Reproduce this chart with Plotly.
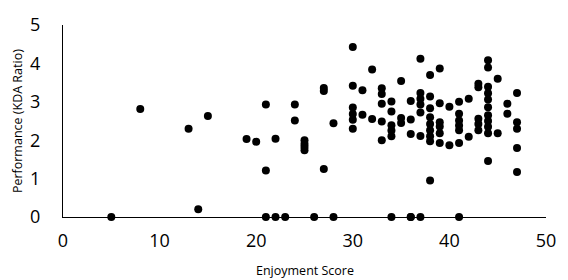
import plotly.graph_objects as go

# Enjoyment score (x) and KDA ratio (y)
enjoyment = [
    5, 8, 13, 14, 15, 19, 20,
    21, 21, 21,
    22, 22,
    23,
    24, 24,
    25, 25, 25, 25,
    26,
    27, 27, 27,
    28, 28,
    30, 30, 30, 30, 30, 30,
    31, 31,
    32, 32,
    33, 33, 33, 33, 33,
    34, 34, 34, 34, 34, 34,
    35, 35, 35,
    36, 36, 36, 36, 36,
    37, 37, 37, 37, 37, 37, 37,
    38, 38, 38, 38, 38, 38, 38, 38, 38,
    39, 39, 39, 39, 39, 39,
    40, 40,
    41, 41, 41, 41, 41, 41, 41,
    42, 42,
    43, 43, 43, 43, 43,
    44, 44, 44, 44, 44, 44, 44, 44, 44, 44, 44,
    45, 45,
    46, 46,
    47, 47, 47, 47, 47,
]
kda = [
    0.0, 2.81, 2.30, 0.20, 2.63, 2.03, 1.96,
    2.93, 1.21, 0.0,
    2.04, 0.0,
    0.0,
    2.93, 2.51,
    2.00, 1.90, 1.82, 1.74,
    0.0,
    3.36, 3.28, 1.25,
    2.44, 0.0,
    4.43, 3.42, 2.85, 2.68, 2.53, 2.30,
    3.30, 2.66,
    3.84, 2.55,
    3.35, 3.20, 2.95, 2.49, 2.00,
    3.01, 2.75, 2.39, 2.25, 2.10, 0.0,
    3.54, 2.58, 2.45,
    3.02, 2.54, 2.16, 0.0, 0.0,
    4.12, 3.23, 3.08, 2.93, 2.72, 2.11, 0.0,
    3.70, 3.14, 2.83, 2.60, 2.42, 2.26, 2.10, 1.97, 0.95,
    3.87, 2.96, 2.47, 2.36, 2.18, 1.93,
    2.87, 1.87,
    3.00, 2.69, 2.51, 2.38, 2.26, 1.93, 0.0,
    3.08, 2.09,
    3.47, 3.38, 2.56, 2.42, 2.26,
    4.08, 3.89, 3.39, 3.22, 3.06, 2.86, 2.65, 2.50, 2.35, 2.18, 1.46,
    3.60, 2.18,
    2.95, 2.69,
    3.23, 2.47, 2.30, 1.80, 1.17,
]

x_ticks = [0, 10, 20, 30, 40, 50]
y_ticks = [0, 1, 2, 3, 4, 5]
x_title = "Enjoyment Score"
y_title = "Performance (KDA Ratio)"

FONT = "Open Sans"

fig = go.Figure(
    go.Scatter(
        x=enjoyment,
        y=kda,
        mode="markers",
        marker=dict(size=8, color="black", line=dict(width=0)),
        cliponaxis=False,
        showlegend=False,
    )
)

fig.update_layout(
    width=568,
    height=280,
    margin=dict(l=63, r=22, t=17, b=63),
    paper_bgcolor="white",
    plot_bgcolor="white",
    font=dict(family=FONT, color="black"),
    xaxis=dict(
        range=[0, 50],
        tickvals=x_ticks,
        showgrid=False,
        zeroline=False,
        showline=True,
        linecolor="black",
        linewidth=1,
        ticks="",
        ticklabelstandoff=7,
        tickfont=dict(size=18, family=FONT, color="black"),
    ),
    yaxis=dict(
        range=[0, 5],
        tickvals=y_ticks,
        showgrid=False,
        zeroline=False,
        showline=True,
        linecolor="black",
        linewidth=1,
        ticks="",
        ticklabelstandoff=18,
        tickfont=dict(size=18, family=FONT, color="black"),
    ),
    annotations=[
        dict(
            text=x_title, xref="paper", yref="paper", x=0.5, y=-0.222,
            xanchor="center", yanchor="top", showarrow=False,
            font=dict(size=12.5, family=FONT, color="black"),
        ),
        dict(
            text=y_title, xref="paper", yref="paper", x=-0.095, y=0.5,
            xanchor="center", yanchor="middle", showarrow=False, textangle=-90,
            font=dict(size=12.5, family=FONT, color="black"),
        ),
    ],
)

fig.write_html("out.html")
